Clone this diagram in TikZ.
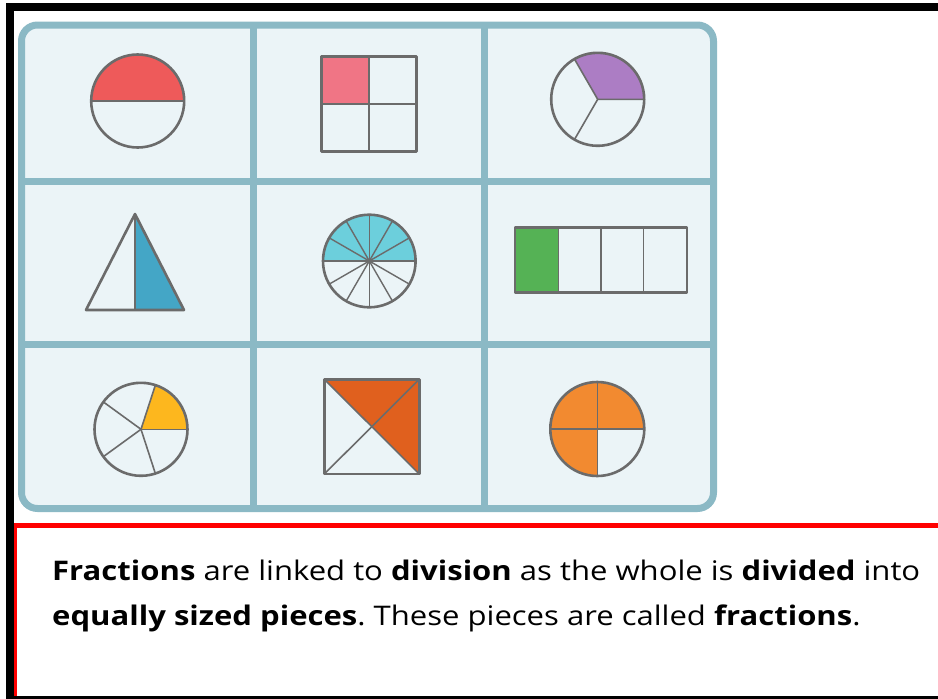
\documentclass[tikz,border=0pt]{standalone}
\usepackage{fontspec}
\setmainfont{Open Sans}
\newfontfamily\capfont[FakeStretch=1.15]{Open Sans}
\definecolor{tealb}{HTML}{8BB9C5}
\definecolor{cellfill}{HTML}{EBF4F7}
\definecolor{shapegray}{HTML}{6B6B6B}
\definecolor{redc}{HTML}{EE5A5A}
\definecolor{pinkc}{HTML}{F07585}
\definecolor{purplec}{HTML}{AC7DC4}
\definecolor{bluec}{HTML}{44A6C6}
\definecolor{cyanc}{HTML}{6CCFDC}
\definecolor{greenc}{HTML}{55B255}
\definecolor{yellowc}{HTML}{FDB71E}
\definecolor{darkorange}{HTML}{E0601E}
\definecolor{orangec}{HTML}{F28A30}
\definecolor{framered}{HTML}{FF0000}
\frenchspacing
\begin{document}
\begin{tikzpicture}[x=1pt,y=-1pt,
  outl/.style={draw=shapegray, line width=2.6pt, line join=round},
  inl/.style={draw=shapegray, line width=1.6pt},
  gridline/.style={draw=tealb, line width=7pt},
  caption/.style={anchor=base west, inner sep=0pt, font=\capfont\fontsize{27}{32}\selectfont},
  shapeat/.style={shift={#1}, yscale=-1}]
\useasboundingbox (0,0) rectangle (938,699);
\fill[white] (0,0) rectangle (938,699);
% black frame
\fill[black] (6,3) rectangle (938,11);
\fill[black] (6,3) rectangle (14,699);
\fill[black] (6,695.5) rectangle (938,699);
% red box
\fill[framered] (14,523) rectangle (938,528);
\fill[framered] (14,523) rectangle (17,695.5);
% grid
\draw[gridline, fill=cellfill, rounded corners=16pt] (21.5,25) rectangle (713.5,508.5);
\draw[gridline] (253,25) -- (253,508.5) (484,25) -- (484,508.5)
  (21.5,181) -- (713.5,181) (21.5,344) -- (713.5,344);
% cell 1: half circle
\begin{scope}[shapeat={(137.7,101)}]
  \fill[redc] (-46.5,0) arc[start angle=180,end angle=0,radius=46.5] -- cycle;
  \draw[inl] (-46.5,0) -- (46.5,0);
  \draw[outl] (0,0) circle[radius=46.5];
\end{scope}
% cell 2: quarter square
\begin{scope}[shapeat={(368.7,104.2)}]
  \fill[pinkc] (-47.5,0) rectangle (0,47.5);
  \draw[inl] (0,-47.5) -- (0,47.5) (-47.5,0) -- (47.5,0);
  \draw[outl] (-47.5,-47.5) rectangle (47.5,47.5);
\end{scope}
% cell 3: thirds circle
\begin{scope}[shapeat={(597.7,99.3)}]
  \fill[purplec] (0,0) -- (0:46.5) arc[start angle=0,end angle=120,radius=46.5] -- cycle;
  \draw[inl] (0,0) -- (0:46.5) (0,0) -- (120:46.5) (0,0) -- (240:46.5);
  \draw[outl] (0,0) circle[radius=46.5];
\end{scope}
% cell 4: triangle
\fill[bluec] (135,214) -- (184,310) -- (135,310) -- cycle;
\draw[inl] (135,214) -- (135,310);
\draw[outl] (135,214) -- (184,310) -- (86,310) -- cycle;
% cell 5: twelfths circle
\begin{scope}[shapeat={(369.3,261)}]
  \fill[cyanc] (-46.3,0) arc[start angle=180,end angle=0,radius=46.3] -- cycle;
  \foreach \a in {0,30,...,330} \draw[inl, line width=1.4pt] (0,0) -- (\a:46.3);
  \fill[shapegray] (0,0) circle[radius=2.2];
  \draw[outl] (0,0) circle[radius=46.3];
\end{scope}
% cell 6: quarter bar
\fill[greenc] (515,227.7) rectangle (558.3,292.7);
\draw[inl] (558.3,227.7) -- (558.3,292.7) (600.7,227.7) -- (600.7,292.7) (643.3,227.7) -- (643.3,292.7);
\draw[outl] (515,227.7) rectangle (687,292.7);
% cell 7: fifths circle
\begin{scope}[shapeat={(141,429.3)}]
  \fill[yellowc] (0,0) -- (0:46.5) arc[start angle=0,end angle=72,radius=46.5] -- cycle;
  \foreach \a in {0,72,144,216,288} \draw[inl] (0,0) -- (\a:46.5);
  \draw[outl] (0,0) circle[radius=46.5];
\end{scope}
% cell 8: square with diagonals
\fill[darkorange] (324.3,379.3) -- (419.3,379.3) -- (419.3,474) -- (371.8,426.65) -- cycle;
\draw[inl] (324.3,379.3) -- (419.3,474) (419.3,379.3) -- (324.3,474);
\draw[outl] (324.3,379.3) rectangle (419.3,474);
% cell 9: three quarters circle
\begin{scope}[shapeat={(597.3,429)}]
  \fill[orangec] (0,0) -- (0:47) arc[start angle=0,end angle=270,radius=47] -- cycle;
  \draw[inl] (-47,0) -- (47,0) (0,-47) -- (0,47);
  \draw[outl] (0,0) circle[radius=47];
\end{scope}
% caption
\node[caption] (t1) at (52,580) {\textbf{Fractions} are linked to \textbf{division} as the whole is \textbf{divided} into};
\node[caption] (t2) at (52,625) {\textbf{equally sized pieces}. These pieces are called \textbf{fractions}.};
\end{tikzpicture}
\end{document}
